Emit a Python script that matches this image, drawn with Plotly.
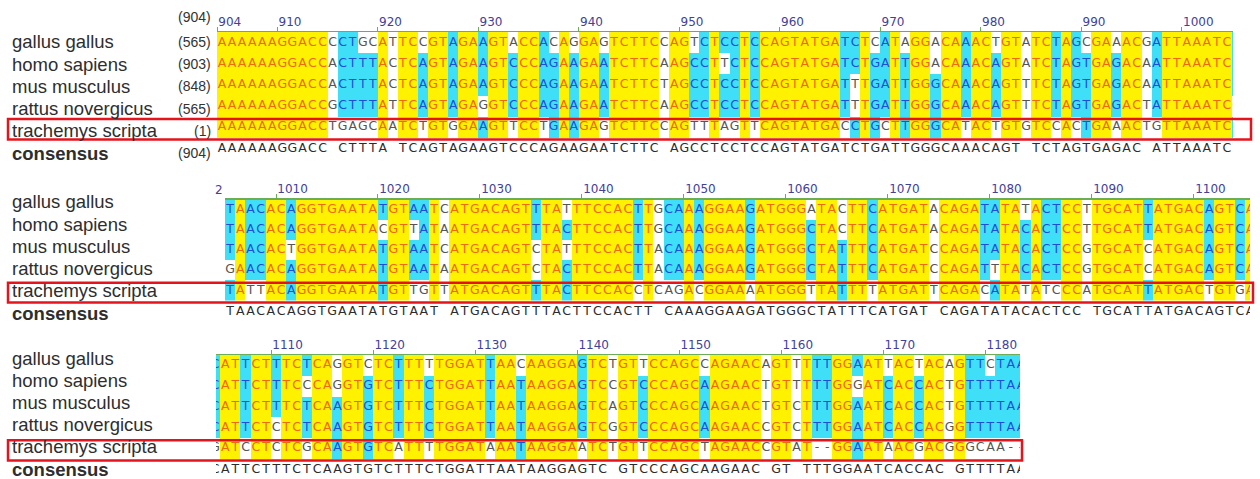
import plotly.graph_objects as go

W, H = 1260, 479

# ---------------- data ----------------
species = ["gallus gallus", "homo sapiens", "mus musculus", "rattus novergicus", "trachemys scripta"]
start_numbers = ["(565)", "(903)", "(848)", "(565)", "(1)"]
consensus_label = "consensus"
consensus_start = "(904)"
first_position = 904

gallus = ("AAAAAAGGACCCCTGCATTCCGTAGAAGTACCACAGGAGTCTTCCAGTCTCCTCCAGTATGATCTCATAGGACAAACTGTATCTAGCGAAACGATTAAATC"
          "TAACACAGGTGAATATGTAATCATGACAGTTTATTTCCACTTGCAAAGGAAGATGGGATACTTCATGATACAGATATATACTCCTTGCATTATGACAGTC"
          "ATTCTTTCTCAGGTCTCTTTTTGGATTAACAAGGAGTCTGTTCCAGCCAGAACAGTTTTTGGAATTACTACAGTTCTAA")
homo = ("AAAAAAGGACCACTTTACTCAGTAGAAGTCCCAGAAGAATCTTCAAGCCTTCTCCAGTATGATCTGATTGGACAAACAGTATCTAGTGAGACAATTAAATC"
        "TAACACAGGTGAATACGTTATAATGACAGTTTACTTCCACTTGCAAAGGAAGATGGGCTACTTCATGATACAGATATACACTCCTTGCATTATGACAGTC"
        "ATTCTTTCCCAGGTGTCTTTCTGGATTAATAAGGAGTCCGTCCCAGCAAGAACTGTTTTTGGGATCACCACTGTTTTAA")
mus = ("AAAAAAGGACCACTTTACTCAGTAGAAGTCCCAGAAGAATCTTCTAGCCTCCTCCAGTATGATTTGATTGGGCAAACAGTTTCTAGTGAGACAATTAAATC"
       "TAACACTGGTGAATATGTAATCATGACAGTCTATTTCCACTTACAAAGGAAGATGGGCTATTTCATGATCCAGATATACACTCCGTGCATCATGACAGTC"
       "ATTCTTTCTCAAGTGTCTTTCTGGATTAATAAGGAGTCAGTCCCAGCAAGAACTGTCTTTGGAATCACCACTGTTTTAA")
rattus = ("AAAAAAGGACCGCTTTATTCAGTAGAGGTCCCAGAAGAATCTTCAAGCCTCCTCCAGTATGATTTGATTGGGCAAACAGTTTCTAGTGAGACTATTAAATC"
          "GAACACAGGTGAATATGTAATAATGACAGTCTACTTCCACTTACAAAGGAAGATGGGCTATTTCATGATCCAGATTTACACTCCGTGCATCATGACAGTC"
          "ATTCTCTCTCAAGTGTCTTTCTGGATTAATAAGGAGTCGGTCCCAGCAAGAACCGTCTTTGGAATCACCACGGTTTTAA")
trachemys = ("AAAAAAGGACCTGAGCAATCTGTGGAAGTTCCTGAAGAGTCTTCCAGTTTAGTTCAGTATGACCTGCTTGGGCATACTGTGTCCACTGAAACTGTTAAATC"
             "TATTACAGGTGAATATGTTGTTATGACAGTTTACTTCCACCTCAGACGGAAAATGGGTTATTTTATGATTCAGACATATATCCCATGCATTATGACTGTG"
             "ATCCTCTCGCAAGTGTCATTTTGGATAAATAAGGAATCTGTTCCAGCTAGAACCGTAT--GGAATAACGACGGGCAA--")
consensus = ("AAAAAAGGACC CTTTA TCAGTAGAAGTCCCAGAAGAATCTTC AGCCTCCTCCAGTATGATCTGATTGGGCAAACAGT TCTAGTGAGAC ATTAAATC"
             "TAACACAGGTGAATATGTAAT ATGACAGTTTACTTCCACTT CAAAGGAAGATGGGCTATTTCATGAT CAGATATACACTCC TGCATTATGACAGTC"
             "ATTCTTTCTCAAGTGTCTTTCTGGATTAATAAGGAGTC GTCCCAGCAAGAAC GT TTTGGAATCACCAC GTTTTAA")
sequences = [gallus, homo, mus, rattus, trachemys]

# visible window (sequence positions) of each of the three alignment blocks
block_windows = [(903.5, 1004.6), (1004.5, 1105.0), (1104.1, 1182.9)]
block_ticks = [[904, 910, 920, 930, 940, 950, 960, 970, 980, 990, 1000],
               [1010, 1020, 1030, 1040, 1050, 1060, 1070, 1080, 1090, 1100],
               [1110, 1120, 1130, 1140, 1150, 1160, 1170, 1180]]
block2_cut_label = "2"
highlight = "trachemys scripta"

# ---------------- styling / layout ----------------
block_px_x = [(217, 1233), (225, 1250), (216, 1020)]
block_top_px = [32, 199.5, 355]
row_pitch_px = [21.1, 20.2, 20.7]
block_bottom_px = [165, 325, 479]
label_top_px = [42, 202, 358]
label_pitch_px = 22.2
box_right_px = [1251, 1253, 1022]
CONS_ROW = 5.05

YELLOW, CYAN, WHITE = "#FFF200", "#3FE0F7", "#FFFFFF"
TXT_ID, TXT_CONS, TXT_NO, TXT_CONSENSUS = "#F0680F", "#1E4FD6", "#555555", "#2C2C2C"
RULER = "#6CAE55"
SEQFONT = "DejaVu Sans"
LABFONT = "Liberation Sans"

fig = go.Figure()
n = len(sequences[0])

for b, (lo, hi) in enumerate(block_windows):
    xa = "x" if b == 0 else f"x{b+1}"
    ya = "y" if b == 0 else f"y{b+1}"
    positions = [p for p in range(first_position, first_position + n) if p + 0.5 > lo and p - 0.5 < hi]
    z = []
    tx, ty, tt, tc = [], [], [], []
    for r, seq in enumerate(sequences):
        zrow = []
        for p in positions:
            i = p - first_position
            ch = seq[i]
            col = [s[i] for s in sequences]
            cons = consensus[i]
            if all(c == col[0] for c in col) and ch != "-":
                code, color = 2, TXT_ID
            elif cons != " " and ch == cons:
                code, color = 1, TXT_CONS
            else:
                code, color = 0, TXT_NO
            zrow.append(code)
            tx.append(p); ty.append(r); tt.append(ch); tc.append(color)
        z.append(zrow)
    fig.add_trace(go.Heatmap(
        x=positions, y=list(range(len(sequences))), z=z, zmin=0, zmax=2,
        colorscale=[[0, WHITE], [0.33, WHITE], [0.33, CYAN], [0.67, CYAN], [0.67, YELLOW], [1, YELLOW]],
        showscale=False, xgap=0, ygap=0, hoverinfo="skip", xaxis=xa, yaxis=ya))
    fig.add_trace(go.Scatter(
        x=tx, y=ty, text=tt, mode="text", textposition="middle center",
        textfont=dict(family=SEQFONT, size=12.5, color=tc), hoverinfo="skip",
        showlegend=False, xaxis=xa, yaxis=ya))
    cx = [p for p in positions if consensus[p - first_position] != " "]
    fig.add_trace(go.Scatter(
        x=cx, y=[CONS_ROW] * len(cx), text=[consensus[p - first_position] for p in cx],
        mode="text", textposition="middle center",
        textfont=dict(family=SEQFONT, size=12.5, color=TXT_CONSENSUS), hoverinfo="skip",
        showlegend=False, xaxis=xa, yaxis=ya))

    px0, px1 = block_px_x[b]
    top, pitch, bot = block_top_px[b], row_pitch_px[b], block_bottom_px[b]
    xkey = "xaxis" if b == 0 else f"xaxis{b+1}"
    ykey = "yaxis" if b == 0 else f"yaxis{b+1}"
    fig.layout[xkey] = dict(
        domain=[px0 / W, px1 / W], range=[lo, hi], anchor=ya, side="top",
        showline=True, linecolor=RULER, linewidth=1.5, mirror=False,
        ticks="outside", ticklen=4, tickcolor=RULER, tickwidth=1,
        tickvals=[t - 0.5 for t in block_ticks[b]], ticktext=[str(t) for t in block_ticks[b]],
        ticklabelposition="outside right",
        tickfont=dict(family=SEQFONT, size=12, color="#41419A"),
        showgrid=False, zeroline=False, fixedrange=True)
    fig.layout[ykey] = dict(
        domain=[1 - bot / H, 1 - top / H], range=[-0.5 + (bot - top) / pitch, -0.5],
        anchor=xa, visible=False, fixedrange=True)

    # row labels
    for r, name in enumerate(species + [consensus_label]):
        fig.add_annotation(
            x=10 / W, xref="paper", xanchor="left",
            y=1 - (label_top_px[b] + r * label_pitch_px) / H, yref="paper", yanchor="middle",
            text=("<b>%s</b>" % name) if name == consensus_label else name, showarrow=False,
            font=dict(family=LABFONT, size=18.5, color="#2E2E2E"))
    # highlight box
    hr = species.index(highlight)
    fig.add_shape(type="rect", xref="paper", yref=ya,
                  x0=8 / W, x1=box_right_px[b] / W, y0=hr - 0.38, y1=hr + 0.6,
                  line=dict(color="#E5141C", width=2.5), fillcolor="rgba(0,0,0,0)", layer="above")

# start numbers (first block only)
for r, num in enumerate([consensus_start] + start_numbers + [consensus_start]):
    fig.add_annotation(
        x=213 / W, xref="paper", xanchor="right",
        y=1 - (label_top_px[0] + (r - 1) * label_pitch_px - (3 if r == 0 else 0)) / H,
        yref="paper", yanchor="middle", text=num, showarrow=False,
        font=dict(family=LABFONT, size=14, color="#333333"))

fig.add_annotation(x=block_windows[1][0], xref="x2", xanchor="right",
                   y=1 - 190 / H, yref="paper", yanchor="middle", text=block2_cut_label,
                   showarrow=False, font=dict(family=SEQFONT, size=12, color="#41419A"))

fig.update_layout(width=W, height=H, margin=dict(l=0, r=0, t=0, b=0),
                  paper_bgcolor="white", plot_bgcolor="white", showlegend=False)
fig.write_html("out.html", config={"displayModeBar": False, "staticPlot": True},
               post_script="document.body.style.margin='0';")
